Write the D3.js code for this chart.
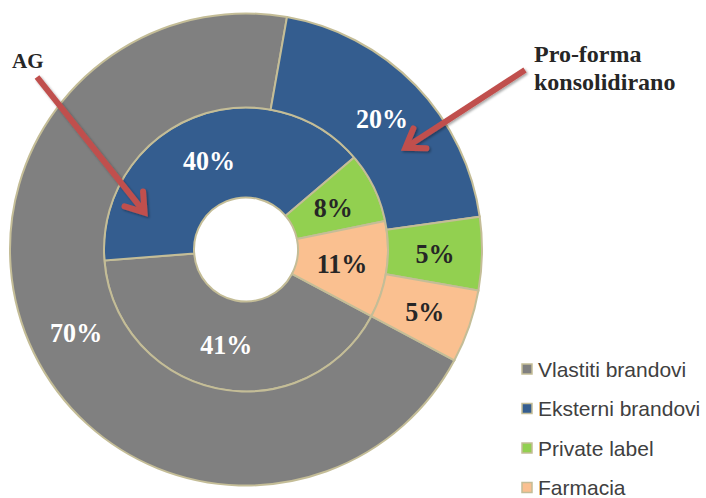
<!DOCTYPE html>
<html>
<head>
<meta charset="utf-8">
<script src="https://cdn.jsdelivr.net/npm/d3@7"></script>
<style>
  body { margin: 0; background: #fff; }
</style>
</head>
<body>
<div id="chart"></div>
<script>
// categories + two series (inner = AG, outer = pro-forma konsolidirano)
var categories = ["Vlastiti brandovi", "Eksterni brandovi", "Private label", "Farmacia"];
var innerValues = [41, 40, 8, 11];
var outerValues = [70, 20, 5, 5];
var colors = ["#808080", "#345d8f", "#92d050", "#fac090"];
var labelColors = ["#fff", "#fff", "#262626", "#262626"];

var width = 706, height = 498;
var cx = 246, cy = 249.5;
var rHole = 52, rMid = 142, rOuter = 236;
var startDeg = 118;

var svg = d3.select("#chart").append("svg")
  .attr("width", width)
  .attr("height", height);

var defs = svg.append("defs");
var f = defs.append("filter").attr("id", "shadow")
  .attr("x", "-20%").attr("y", "-20%").attr("width", "140%").attr("height", "140%");
f.append("feDropShadow").attr("dx", 1.5).attr("dy", 1.5).attr("stdDeviation", 1.2)
  .attr("flood-color", "#000").attr("flood-opacity", 0.35);

var g = svg.append("g").attr("transform", "translate(" + cx + "," + cy + ")");

var pie = d3.pie()
  .sort(null)
  .value(function(d){ return d; })
  .startAngle(startDeg * Math.PI / 180)
  .endAngle(startDeg * Math.PI / 180 + 2 * Math.PI);

function ring(values, r0, r1, cls){
  var arc = d3.arc().innerRadius(r0).outerRadius(r1);
  var arcs = pie(values);
  var grp = g.append("g").attr("class", cls);
  grp.selectAll("path")
    .data(arcs)
    .enter().append("path")
    .attr("d", arc)
    .attr("fill", function(d, i){ return colors[i]; })
    .attr("stroke", "#c4bd97")
    .attr("stroke-width", 2);
  grp.selectAll("text")
    .data(arcs)
    .enter().append("text")
    .attr("transform", function(d){ return "translate(" + arc.centroid(d) + ") scale(0.93,1)"; })
    .attr("text-anchor", "middle")
    .attr("dy", "0.35em")
    .attr("font-family", "'Liberation Serif', 'Times New Roman', serif")
    .attr("font-weight", "bold")
    .attr("font-size", 28)
    .attr("fill", function(d, i){ return labelColors[i]; })
    .text(function(d){ return d.value + "%"; });
  return arcs;
}

var innerArcs = ring(innerValues, rHole, rMid, "inner");
var outerArcs = ring(outerValues, rMid, rOuter, "outer");

// annotation arrows: text, where the text sits, arrow start, and tip (ring arc + radius)
var notes = [
  { lines: ["AG"], x: 12, y: 68, size: 21, from: [37, 77], arc: innerArcs[1], angleOff: -0.83, r: 108 },
  { lines: ["Pro-forma", "konsolidirano"], x: 534, y: 62, size: 24, from: [525, 70], arc: outerArcs[1], angleOff: 0.2, r: 189 }
];

notes.forEach(function(n){
  var t = svg.append("text")
    .attr("x", n.x).attr("y", n.y)
    .attr("font-family", "'Liberation Serif', 'Times New Roman', serif")
    .attr("font-weight", "bold")
    .attr("font-size", n.size)
    .attr("fill", "#262626");
  n.lines.forEach(function(l, i){
    t.append("tspan").attr("x", n.x).attr("dy", i === 0 ? 0 : 28).text(l);
  });

  var mid = (n.arc.startAngle + n.arc.endAngle) / 2 + n.angleOff;
  var tip = [cx + n.r * Math.sin(mid), cy - n.r * Math.cos(mid)];
  var a = Math.atan2(tip[1] - n.from[1], tip[0] - n.from[0]);
  var head = 21, spread = 0.6;
  var h1 = [tip[0] - head * Math.cos(a - spread), tip[1] - head * Math.sin(a - spread)];
  var h2 = [tip[0] - head * Math.cos(a + spread), tip[1] - head * Math.sin(a + spread)];
  var ag = svg.append("g").attr("filter", "url(#shadow)");
  ag.append("path")
    .attr("d", "M" + n.from + "L" + tip)
    .attr("stroke", "#c0504d").attr("stroke-width", 6).attr("fill", "none");
  ag.append("path")
    .attr("d", "M" + h1 + "L" + tip + "L" + h2)
    .attr("stroke", "#c0504d").attr("stroke-width", 6).attr("fill", "none")
    .attr("stroke-linejoin", "miter").attr("stroke-linecap", "round");
});

// legend
var legend = svg.append("g").attr("transform", "translate(521,369)");
var items = legend.selectAll("g")
  .data(categories)
  .enter().append("g")
  .attr("transform", function(d, i){ return "translate(0," + (i * 39.5) + ")"; });
items.append("rect")
  .attr("x", 1).attr("y", -5)
  .attr("width", 10).attr("height", 10)
  .attr("fill", function(d, i){ return colors[i]; })
  .attr("stroke", "#c4bd97")
  .attr("stroke-width", 1.5);
items.append("text")
  .attr("x", 17)
  .attr("dy", "0.36em")
  .attr("font-family", "'Liberation Sans', Arial, sans-serif")
  .attr("font-size", 21)
  .attr("fill", "#404040")
  .text(function(d){ return d; });
</script>
</body>
</html>
